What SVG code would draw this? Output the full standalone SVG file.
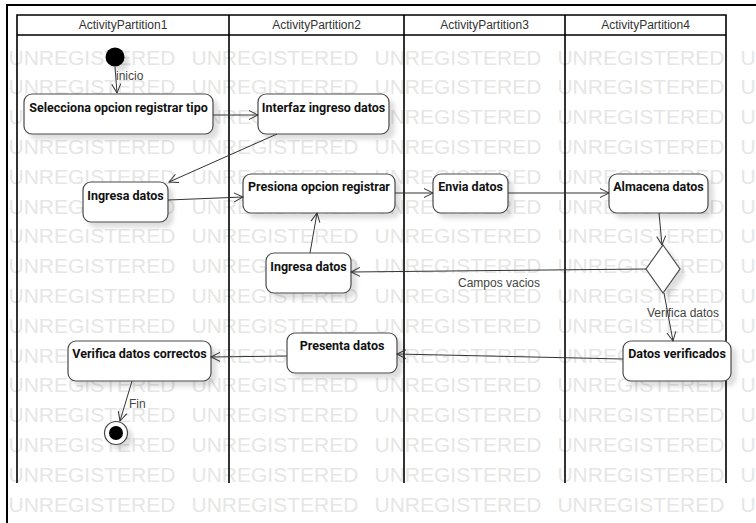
<svg xmlns="http://www.w3.org/2000/svg" width="756" height="523" viewBox="0 0 756 523">
<defs>
<style>
.wm{font-family:"Liberation Sans",Arial,sans-serif;font-size:21px;fill:#e6e6e6;word-spacing:10.3px}
.lane{fill:none;stroke:#000;stroke-width:1.6}
.hdr{font-family:"Liberation Sans",Arial,sans-serif;font-size:12px;fill:#333;text-anchor:middle}
.node rect{fill:#fff;stroke:#4a4a4a;stroke-width:1.2}
.node text{font-family:Roboto,"Liberation Sans",sans-serif;font-weight:bold;font-size:12.5px;fill:#111;text-anchor:middle}
.sh{filter:url(#shadow)}
.conn line{stroke:#333;stroke-width:1;marker-end:url(#arr)}
.lbl{font-family:"Liberation Sans",Arial,sans-serif;font-size:12px;fill:#444}
</style>
<filter id="shadow" x="-20%" y="-30%" width="150%" height="180%">
<feDropShadow dx="5" dy="5" stdDeviation="2" flood-color="#000" flood-opacity="0.13"/>
</filter>
<marker id="arr" markerUnits="userSpaceOnUse" markerWidth="12" markerHeight="12" viewBox="0 0 12 12" refX="10" refY="6" orient="auto">
<path d="M1,1.5 L10,6 L1,10.5" fill="none" stroke="#333" stroke-width="1"/>
</marker>
</defs>
<rect width="756" height="523" fill="#fff"/>
<g id="watermark">
<text class="wm" x="8.5" y="64.5">UNREGISTERED UNREGISTERED UNREGISTERED UNREGISTERED U</text>
<text class="wm" x="8.5" y="94.3">UNREGISTERED UNREGISTERED UNREGISTERED UNREGISTERED U</text>
<text class="wm" x="8.5" y="124.1">UNREGISTERED UNREGISTERED UNREGISTERED UNREGISTERED U</text>
<text class="wm" x="8.5" y="153.9">UNREGISTERED UNREGISTERED UNREGISTERED UNREGISTERED U</text>
<text class="wm" x="8.5" y="183.7">UNREGISTERED UNREGISTERED UNREGISTERED UNREGISTERED U</text>
<text class="wm" x="8.5" y="213.5">UNREGISTERED UNREGISTERED UNREGISTERED UNREGISTERED U</text>
<text class="wm" x="8.5" y="243.3">UNREGISTERED UNREGISTERED UNREGISTERED UNREGISTERED U</text>
<text class="wm" x="8.5" y="273.1">UNREGISTERED UNREGISTERED UNREGISTERED UNREGISTERED U</text>
<text class="wm" x="8.5" y="302.9">UNREGISTERED UNREGISTERED UNREGISTERED UNREGISTERED U</text>
<text class="wm" x="8.5" y="332.7">UNREGISTERED UNREGISTERED UNREGISTERED UNREGISTERED U</text>
<text class="wm" x="8.5" y="362.5">UNREGISTERED UNREGISTERED UNREGISTERED UNREGISTERED U</text>
<text class="wm" x="8.5" y="392.3">UNREGISTERED UNREGISTERED UNREGISTERED UNREGISTERED U</text>
<text class="wm" x="8.5" y="422.1">UNREGISTERED UNREGISTERED UNREGISTERED UNREGISTERED U</text>
<text class="wm" x="8.5" y="451.9">UNREGISTERED UNREGISTERED UNREGISTERED UNREGISTERED U</text>
<text class="wm" x="8.5" y="481.7">UNREGISTERED UNREGISTERED UNREGISTERED UNREGISTERED U</text>
<text class="wm" x="8.5" y="511.5">UNREGISTERED UNREGISTERED UNREGISTERED UNREGISTERED U</text>
</g>
<path d="M7,523 V5 H756" fill="none" stroke="#000" stroke-width="2"/>
<g id="lanes">
<path class="lane" d="M17,483 V15 H726 V483 M17,35 H726 M229,15 V483 M404,15 V483 M565,15 V483"/>
<text class="hdr" x="123" y="29">ActivityPartition1</text>
<text class="hdr" x="316.5" y="29">ActivityPartition2</text>
<text class="hdr" x="484.5" y="29">ActivityPartition3</text>
<text class="hdr" x="645.5" y="29">ActivityPartition4</text>
</g>
<g id="initial"><circle class="sh" cx="115" cy="57" r="9.5" fill="#000"/></g>
<g id="sel" class="node"><rect class="sh" x="24" y="94" width="189" height="40" rx="8"/><text x="118.5" y="111.5">Selecciona opcion registrar tipo</text></g>
<g id="interfaz" class="node"><rect class="sh" x="258" y="94" width="131" height="40" rx="8"/><text x="323.5" y="111.5">Interfaz ingreso datos</text></g>
<g id="ingresa1" class="node"><rect class="sh" x="83" y="182" width="85" height="40" rx="8"/><text x="125.5" y="199.5">Ingresa datos</text></g>
<g id="presiona" class="node"><rect class="sh" x="243" y="174" width="152" height="39" rx="8"/><text x="319" y="191">Presiona opcion registrar</text></g>
<g id="envia" class="node"><rect class="sh" x="433" y="174" width="75" height="39" rx="8"/><text x="470.5" y="191">Envia datos</text></g>
<g id="almacena" class="node"><rect class="sh" x="609" y="174" width="99" height="39" rx="8"/><text x="658.5" y="191">Almacena datos</text></g>
<g id="decision"><polygon class="sh" points="663,245 680,269 663,293 646,269" fill="#fff" stroke="#4a4a4a" stroke-width="1.2"/></g>
<g id="ingresa2" class="node"><rect class="sh" x="266" y="253" width="85" height="40" rx="8"/><text x="308.5" y="270.5">Ingresa datos</text></g>
<g id="presenta" class="node"><rect class="sh" x="287" y="333" width="110" height="40" rx="8"/><text x="342" y="350">Presenta datos</text></g>
<g id="datosver" class="node"><rect class="sh" x="623" y="341" width="108" height="40" rx="8"/><text x="677" y="358">Datos verificados</text></g>
<g id="verifica" class="node"><rect class="sh" x="68" y="341" width="143" height="40" rx="8"/><text x="139.5" y="358">Verifica datos correctos</text></g>
<g id="final"><circle class="sh" cx="116" cy="433" r="11.5" fill="#fff" stroke="#444" stroke-width="1.2"/><circle cx="116" cy="433" r="7" fill="#000"/></g>
<g id="connectors" class="conn">
<line x1="115" y1="67" x2="117" y2="93"/>
<line x1="213" y1="115" x2="258" y2="115"/>
<line x1="277" y1="134" x2="169" y2="182"/>
<line x1="168" y1="200" x2="243" y2="197"/>
<line x1="395" y1="193" x2="433" y2="193"/>
<line x1="508" y1="193" x2="609" y2="193"/>
<line x1="659" y1="213" x2="662" y2="245"/>
<line x1="646" y1="269" x2="351" y2="272"/>
<line x1="310" y1="253" x2="317" y2="213"/>
<line x1="664" y1="293" x2="673" y2="341"/>
<line x1="623" y1="359" x2="397" y2="354"/>
<line x1="287" y1="356" x2="211" y2="357"/>
<line x1="132" y1="381" x2="120" y2="421"/>
</g>
<g id="labels">
<text class="lbl" x="116" y="80">inicio</text>
<text class="lbl" x="458" y="287">Campos vacios</text>
<text class="lbl" x="647" y="317">Verifica datos</text>
<text class="lbl" x="129" y="408">Fin</text>
</g>
</svg>
